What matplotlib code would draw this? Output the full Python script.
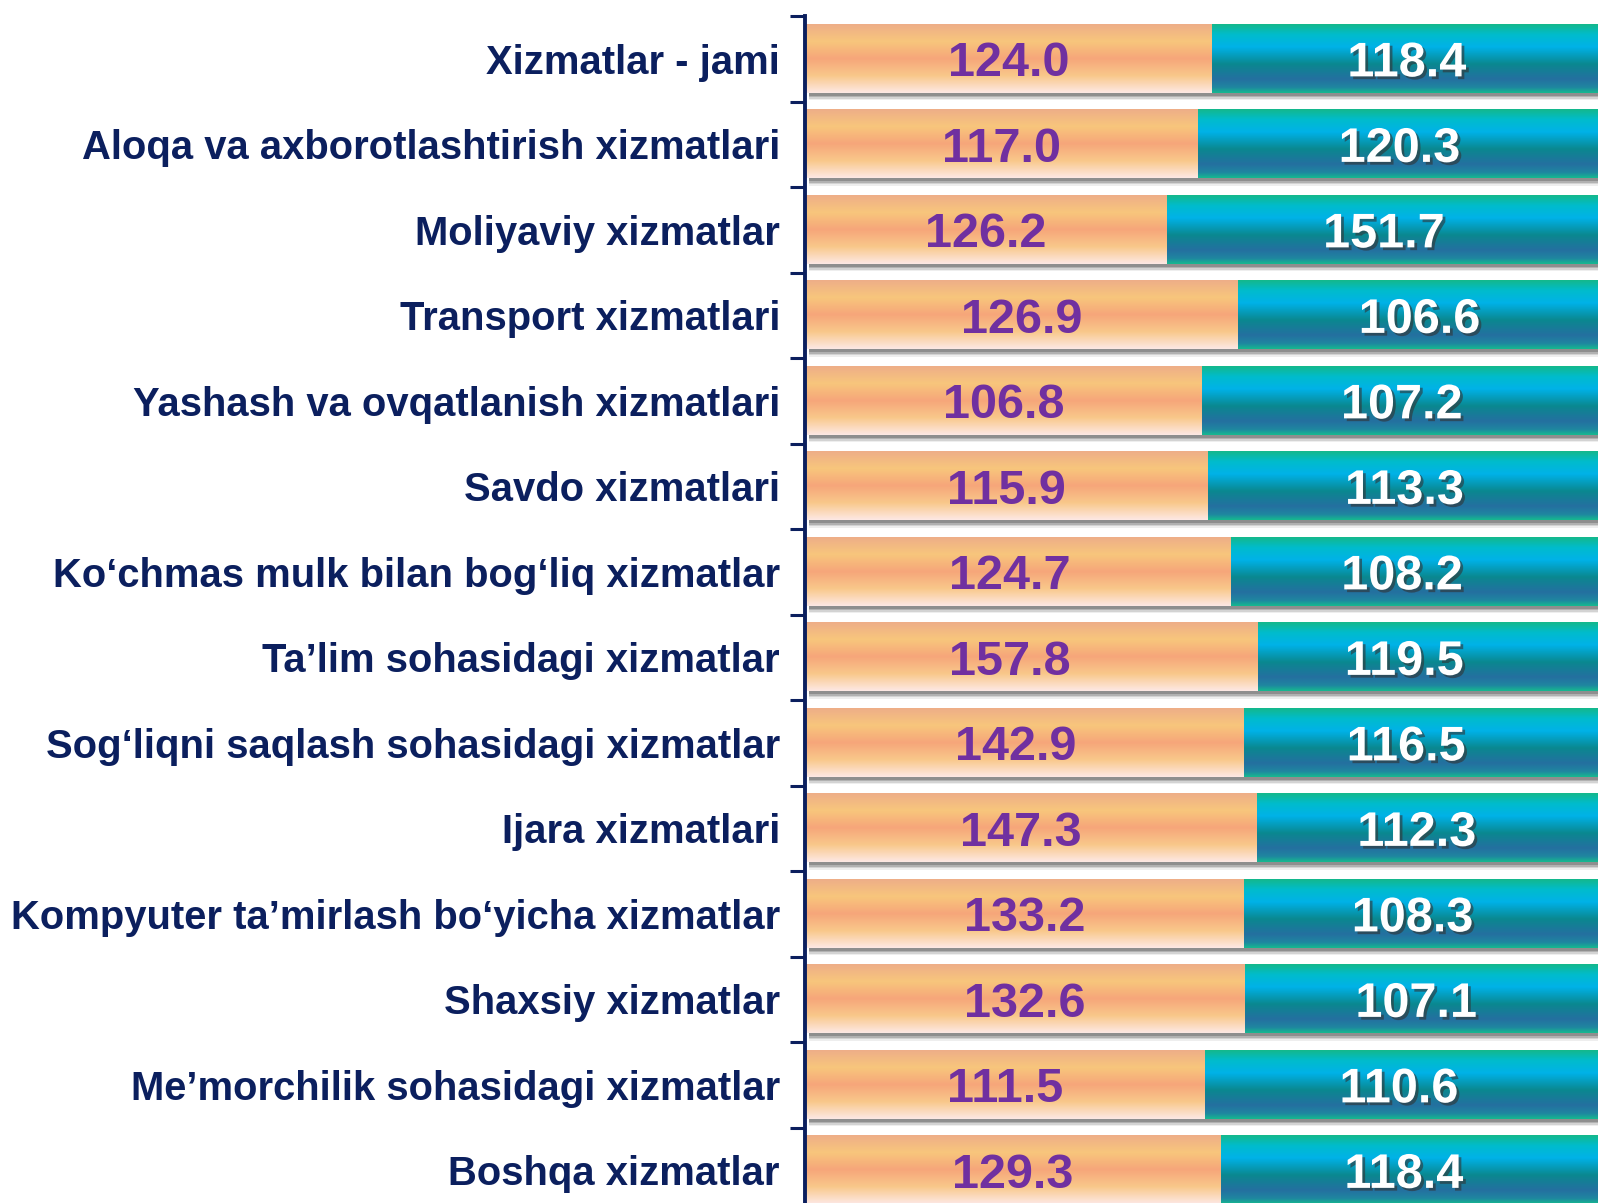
import numpy as np
import matplotlib.pyplot as plt
from matplotlib import patheffects as pe
from matplotlib.colors import LinearSegmentedColormap

plt.rcParams['font.family'] = ['Liberation Sans', 'DejaVu Sans']

categories = [
    "Xizmatlar - jami",
    "Aloqa va axborotlashtirish xizmatlari",
    "Moliyaviy xizmatlar",
    "Transport xizmatlari",
    "Yashash va ovqatlanish xizmatlari",
    "Savdo xizmatlari",
    "Ko\u2018chmas mulk bilan bog\u2018liq xizmatlar",
    "Ta\u2019lim sohasidagi xizmatlar",
    "Sog\u2018liqni saqlash sohasidagi xizmatlar",
    "Ijara xizmatlari",
    "Kompyuter ta\u2019mirlash bo\u2018yicha xizmatlar",
    "Shaxsiy xizmatlar",
    "Me\u2019morchilik sohasidagi xizmatlar",
    "Boshqa xizmatlar",
]
orange_vals = [124.0, 117.0, 126.2, 126.9, 106.8, 115.9, 124.7,
               157.8, 142.9, 147.3, 133.2, 132.6, 111.5, 129.3]
teal_vals = [118.4, 120.3, 151.7, 106.6, 107.2, 113.3, 108.2,
             119.5, 116.5, 112.3, 108.3, 107.1, 110.6, 118.4]

# some labels were dragged a bit left in the original (pixels)
orange_nudge = [0, 0, 0, 0, 0, 0, -8, -21, -8, -10, 0, 0, 0, 0]
teal_nudge = [0, 0, 0, 0, 0, 0, -14, -25, -16, -12, -10, -7, -4, -7]

navy = "#0b1f5e"
purple = "#7030a0"

orange_cmap = LinearSegmentedColormap.from_list("or", [
    (0.0, "#eeae88"), (0.25, "#f8c67c"), (0.5, "#f6a67a"),
    (0.75, "#f9c88a"), (1.0, "#fde8e4")])
teal_cmap = LinearSegmentedColormap.from_list("te", [
    (0.0, "#14b88c"), (0.15, "#00bccc"), (0.33, "#00b2e8"),
    (0.58, "#0a8890"), (0.8, "#2470a0"), (0.92, "#1f86a0"), (1.0, "#16b890")])

grad = np.linspace(0, 1, 200).reshape(-1, 1)

W, H = 1598, 1203
fig = plt.figure(figsize=(W / 100, H / 100), dpi=100)
ax = fig.add_axes([805 / W, 1 - 1213 / H, 1 - 805 / W + 0.002, 1197 / H])

h = 0.8
for i, (a, b) in enumerate(zip(orange_vals, teal_vals)):
    share = a / (a + b)
    top, bot = i - h / 2, i + h / 2
    # drop shadow under each bar
    for k, al in enumerate([0.28, 0.2, 0.14, 0.08]):
        off = 0.02 + k * 0.018
        ax.add_patch(plt.Rectangle((0.005, bot - 0.02), 1.0, off + 0.03,
                                   color="#303030", alpha=al, lw=0, zorder=1))
    ax.imshow(grad, cmap=orange_cmap, extent=(0, share, bot, top),
              aspect="auto", interpolation="bilinear", zorder=2)
    ax.imshow(grad, cmap=teal_cmap, extent=(share, 1.0, bot, top),
              aspect="auto", interpolation="bilinear", zorder=2)
    ax.annotate(f"{a:.1f}", (share / 2, i + 0.06), xytext=(orange_nudge[i] * 1.02, 0),
                textcoords="offset pixels", ha="center", va="center",
                color=purple, fontsize=35, fontweight="bold", zorder=3)
    ax.annotate(f"{b:.1f}", ((share + 1) / 2, i + 0.06), xytext=(teal_nudge[i] * 1.02, 0),
                textcoords="offset pixels", ha="center", va="center",
                color="white", fontsize=35, fontweight="bold", zorder=3,
                path_effects=[pe.withSimplePatchShadow(offset=(2, -2), shadow_rgbFace="#333333", alpha=0.6)])

ax.set_xlim(0, 1)
ax.set_ylim(len(categories) - 0.5, -0.5)
ax.set_yticks(range(len(categories)))
ax.set_yticklabels(categories, fontsize=28.8, fontweight="bold", color=navy)
ax.set_yticks(np.arange(-0.5, len(categories)), minor=True)
ax.tick_params(axis="y", which="major", length=0, pad=18)
ax.tick_params(axis="y", which="minor", length=11, width=2.2, color=navy, direction="out")
ax.set_xticks([])
for s in ["top", "right", "bottom"]:
    ax.spines[s].set_visible(False)
ax.spines["left"].set_color(navy)
ax.spines["left"].set_linewidth(2.8)
ax.set_facecolor("white")

fig.savefig("out.png", dpi=100)
